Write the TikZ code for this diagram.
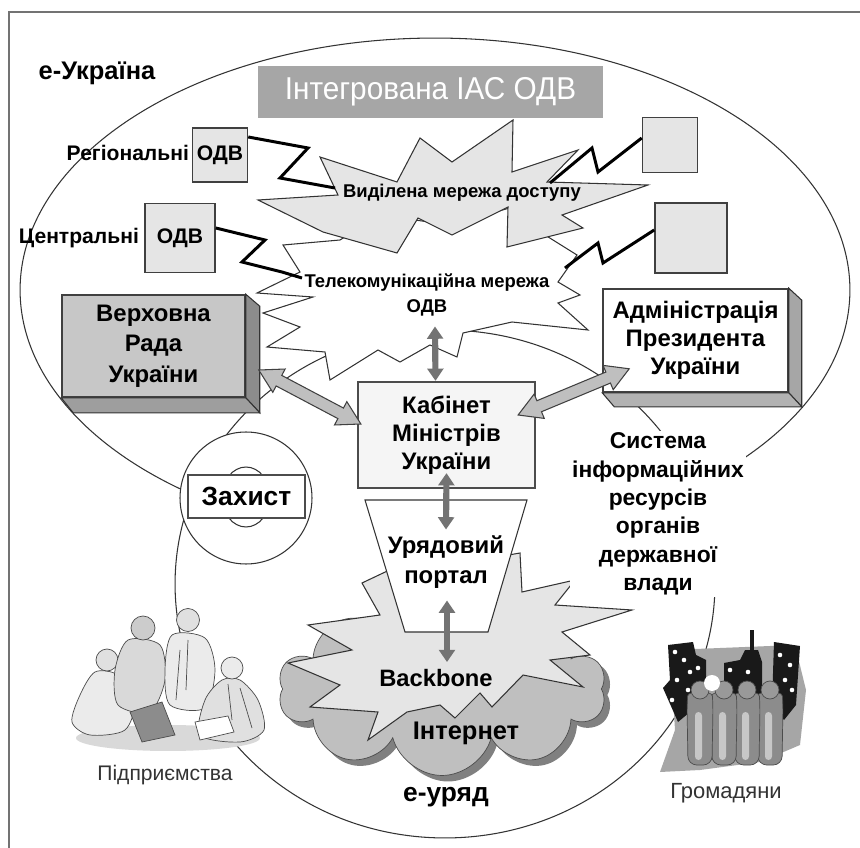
\documentclass[tikz,border=0pt]{standalone}
\usepackage{fontspec}
\setmainfont{Liberation Sans}
\newfontfamily\titlefont[FakeStretch=0.94]{Liberation Sans}
\usetikzlibrary{calc,positioning,shapes.geometric,shapes.symbols,arrows.meta}

\tikzset{
  box/.style={draw=black!75, line width=0.9pt, inner sep=0pt, align=center},
  odvbox/.style={box, fill=black!10},
  lbl/.style={font=\bfseries\fontsize{12}{14}\selectfont},
  nettxt/.style={font=\bfseries\fontsize{10.5}{12}\selectfont},
  boxtxt/.style={font=\bfseries\fontsize{13.6}{15.8}\selectfont, align=center},
  bolt/.style={draw=black, line width=1.7pt, line join=miter},
  burst/.style={draw=black!80, line width=0.6pt, line join=miter},
  side/.style={draw=black!80, line width=0.6pt},
  fatarr/.style={draw=black!75, line width=0.6pt, fill=black!25, line join=miter},
  vdarr/.style={draw=black!55, line width=3.5pt, >={Triangle[width=9pt,length=7pt]}, <->},
  clip/.style={draw=black!70, line width=0.4pt},
}

% fat double arrow between two named coordinates
\newcommand\fatarrow[2]{%
  \coordinate (fa) at (#1);
  \coordinate (fb) at (#2);
  \coordinate (fa1) at ($(fa)!13pt!(fb)$);
  \coordinate (fb1) at ($(fb)!13pt!(fa)$);
  \draw[fatarr] (fa) -- ($(fa1)!7.5pt!90:(fb)$) -- ($(fa1)!3.4pt!90:(fb)$)
    -- ($(fb1)!3.4pt!-90:(fa)$) -- ($(fb1)!7.5pt!-90:(fa)$) -- (fb)
    -- ($(fb1)!7.5pt!90:(fa)$) -- ($(fb1)!3.4pt!90:(fa)$)
    -- ($(fa1)!3.4pt!-90:(fb)$) -- ($(fa1)!7.5pt!-90:(fb)$) -- cycle;
}

\begin{document}
\begin{tikzpicture}[x=0.02cm, y=-0.02cm]
\fill[white] (0,0) rectangle (860,848);
\useasboundingbox (0,0) rectangle (860,848);
% frame
\draw[black!55, line width=1.3pt] (9,848) -- (9,12) -- (860,12);

% e-Ukraine and e-government domains
\node[ellipse, draw=black!80, line width=0.6pt, minimum width=16.6cm, minimum height=10.08cm, inner sep=0pt] (eukr) at (435,290) {};
\node[ellipse, draw=black!80, line width=0.6pt, fill=white, minimum width=10.8cm, minimum height=10.16cm, inner sep=0pt] (euryad) at (445,584) {};
\node[font=\bfseries\fontsize{14.5}{17}\selectfont] (eukrlbl) at (97,73) {e-Україна};

% telecom network (white burst)
\filldraw[burst, fill=white] (257,293) -- (300,272) -- (283,245) -- (340,240) -- (380,215)
  -- (450,225) -- (520,205) -- (545,235) -- (577,255) -- (558,282) -- (580,295) -- (558,303)
  -- (588,330) -- (512,322) -- (463,333) -- (457,357) -- (430,345) -- (400,362) -- (378,350)
  -- (330,380) -- (325,352) -- (267,347) -- (300,327) -- (263,313) -- (313,297) -- cycle;
% access network (grey burst)
\filldraw[burst, fill=black!10] (258,200) -- (338,195) -- (320,157) -- (397,182) -- (420,138)
  -- (452,162) -- (513,120) -- (512,172) -- (578,150) -- (547,182) -- (648,185) -- (562,215)
  -- (583,228) -- (507,247) -- (508,207) -- (452,235) -- (418,218) -- (397,253) -- (323,232) -- cycle;
\node[nettxt] (acclbl) at (462,193) {Виділена мережа доступу};
\node[nettxt] (tclbl) at (427,283) {Телекомунікаційна мережа};
\node[nettxt] (tcodv) at (427,308) {ОДВ};

% central and regional bodies
\node[odvbox, minimum width=1.1cm, minimum height=1.08cm, lbl] (regbox) at (220,155) {ОДВ};
\node[lbl, anchor=east, inner sep=1pt] (reglbl) at (191,153) {Регіональні};
\node[odvbox, minimum width=1.4cm, minimum height=1.38cm, lbl] (cenbox) at (180,238) {ОДВ};
\node[lbl, anchor=east, inner sep=1pt] (cenlbl) at (141,238) {Центральні};
\node[odvbox, minimum width=1.1cm, minimum height=1.1cm] (rbox1) at (670,145) {};
\node[odvbox, minimum width=1.44cm, minimum height=1.4cm] (rbox2) at (691,238) {};

% links into the networks
\coordinate (acc1) at (335,188);
\coordinate (tc1) at (302,278);
\coordinate (acc2) at (550,183);
\coordinate (tc2) at (565,268);
\draw[bolt] ([shift={(0,-18)}]regbox.east) -- (308,148) -- (280,178) -- (acc1);
\draw[bolt] ([shift={(0,-10)}]cenbox.east) -- (265,240) -- (242,262) -- (282,272) -- (tc1);
\draw[bolt] ([shift={(0,-7)}]rbox1.west) -- (598,172) -- (592,148) -- (acc2);
\draw[bolt] ([shift={(0,-8)}]rbox2.west) -- (603,263) -- (598,243) -- (tc2);

% title
\node[fill=black!35, minimum width=6.9cm, minimum height=1.04cm, text=white, font=\titlefont\fontsize{18}{20}\selectfont] (title) at (430.5,92) {Інтегрована ІАС ОДВ};

% parliament and president
\node[box, fill=black!22, minimum width=3.66cm, minimum height=2.04cm, boxtxt, font=\bfseries\fontsize{13.6}{17.3}\selectfont] (rada) at (153.5,346) {Верховна\\Рада\\України};
\filldraw[side, fill=black!45] (rada.north east) -- ++(14,12) -- ([shift={(14,15)}]rada.south east) -- (rada.south east) -- cycle;
\filldraw[side, fill=black!38] (rada.south west) -- ++(12,15) -- ([shift={(14,15)}]rada.south east) -- (rada.south east) -- cycle;
\node[box, fill=white, minimum width=3.7cm, minimum height=2.06cm, boxtxt] (admin) at (695.5,340.5) {Адміністрація\\Президента\\України};
\filldraw[side, fill=black!35] (admin.north east) -- ++(13,12) -- ([shift={(13,14)}]admin.south east) -- (admin.south east) -- cycle;
\filldraw[side, fill=black!30] (admin.south west) -- ++(12,14) -- ([shift={(13,14)}]admin.south east) -- (admin.south east) -- cycle;

% Internet cloud and backbone
\node[cloud, cloud puffs=10, aspect=1.9, minimum width=6.55cm, minimum height=3.46cm, fill=black!50, inner sep=0pt] (inetshadow) at (448,695) {};
\node[cloud, cloud puffs=10, aspect=1.9, minimum width=6.55cm, minimum height=3.46cm, draw=black!70, fill=black!25, inner sep=0pt] (inet) at (442,689) {};
\filldraw[burst, fill=black!10] (362,583) -- (380,615) -- (308,625) -- (352,650) -- (288,663)
  -- (340,685) -- (310,707) -- (378,712) -- (368,740) -- (407,712) -- (440,705) -- (455,718)
  -- (480,693) -- (492,707) -- (523,675) -- (583,687) -- (550,660) -- (590,655) -- (562,632)
  -- (632,610) -- (555,605) -- (575,580) -- (522,592) -- (520,553) -- (480,560) -- (400,565) -- cycle;

% government portal
\filldraw[draw=black!80, line width=0.6pt, fill=white] (365,500) -- (527,500) -- (488,632) -- (405,632) -- cycle;
\node[boxtxt, font=\bfseries\fontsize{13.6}{17}\selectfont] (portlbl) at (446,562) {Урядовий\\портал};

% cabinet
\node[box, fill=black!4, draw=black!70, line width=1.3pt, minimum width=3.54cm, minimum height=2.12cm, boxtxt] (kmu) at (446.5,435) {Кабінет\\Міністрів\\України};

\node[font=\bfseries\fontsize{13.5}{15}\selectfont] (bbone) at (436,678) {Backbone};
\node[font=\bfseries\fontsize{14.5}{16}\selectfont] (inetlbl) at (466,733) {Інтернет};
\node[font=\bfseries\fontsize{15}{17}\selectfont] (euryadlbl) at (446,797) {е-уряд};

% exchange arrows
\coordinate (rk1) at ([shift={(13,24)}]rada.east);
\coordinate (rk2) at ([shift={(4,-11)}]kmu.west);
\coordinate (ak1) at ([shift={(-18,-20)}]kmu.east);
\coordinate (ak2) at ([shift={(27,-24)}]admin.south west);
\fatarrow{rk1}{rk2}
\fatarrow{ak1}{ak2}
\draw[vdarr] ([shift={(8,4)}]tcodv.south) -- ([shift={(-11,0)}]kmu.north);
\draw[vdarr] ([shift={(0,-16)}]kmu.south) -- (portlbl.north);
\draw[vdarr] ([shift={(1,6)}]portlbl.south) -- ([shift={(11,-1)}]bbone.north);

% protection
\node[circle, draw=black!80, line width=0.6pt, fill=white, minimum size=2.64cm, inner sep=0pt] (zcirc) at (246,498) {};
\node[ellipse, draw=black!80, line width=0.6pt, minimum width=0.96cm, minimum height=1.2cm, inner sep=0pt] (zring) at (246,497) {};
\node[box, fill=white, draw=black!70, line width=1.5pt, minimum width=2.34cm, minimum height=0.86cm, font=\bfseries\fontsize{15}{17}\selectfont] (zakhyst) at (246.5,496.5) {Захист};

% information resources
\node[fill=white, inner sep=1pt, boxtxt, font=\bfseries\fontsize{13}{16.1}\selectfont] (sysres) at (658,514) {Система\\інформаційних\\ресурсів\\органів\\державної\\влади};

% enterprises
\fill[black!15] (168,738) ellipse [x radius=1.84cm, y radius=0.26cm];
\filldraw[clip, fill=black!8] plot[smooth cycle] coordinates {(95,672) (80,695) (72,722) (90,735) (125,730) (135,700) (118,675)};
\filldraw[clip, fill=black!12] (107,660) circle (0.22cm);
\filldraw[clip, fill=black!15] plot[smooth cycle] coordinates {(128,640) (115,670) (118,705) (150,712) (165,680) (160,645)};
\filldraw[clip, fill=black!20] (143,628) circle (0.24cm);
\filldraw[clip, fill=black!8] plot[smooth cycle] coordinates {(172,635) (165,670) (170,705) (205,708) (215,670) (205,638)};
\draw[clip] (188,640) -- (186,690) (180,650) -- (176,700);
\filldraw[clip, fill=black!12] (188,620) circle (0.23cm);
\filldraw[clip, fill=black!12] plot[smooth cycle] coordinates {(222,680) (205,700) (200,735) (240,742) (264,730) (258,700) (240,680)};
\draw[clip] (228,684) -- (232,720) (240,688) -- (252,728);
\filldraw[clip, fill=black!8] (232,668) circle (0.22cm);
\filldraw[clip, fill=black!45] (130,712) -- (162,702) -- (175,735) -- (142,742) -- cycle;
\filldraw[clip, fill=white] (195,722) -- (228,716) -- (234,732) -- (200,740) -- cycle;
\node[font=\fontsize{12}{14}\selectfont, text=black!80] (pidpr) at (165,775) {Підприємства};

% citizens
\fill[black!35] (670,650) -- (795,645) -- (806,690) -- (800,745) -- (760,762) -- (700,770) -- (660,772) -- (675,730) -- cycle;
\fill[black!90] (668,645) -- (693,642) -- (696,655) -- (706,660) -- (706,700) -- (690,712) -- (678,722) -- (663,688) -- (670,680) -- cycle;
\fill[black!90] (724,663) -- (740,660) -- (745,650) -- (758,650) -- (762,662) -- (762,700) -- (724,700) -- cycle;
\draw[black!90, line width=2pt] (752,630) -- (752,650);
\fill[black!90] (774,642) -- (800,646) -- (796,705) -- (784,720) -- (772,705) -- cycle;
\foreach \p in {(675,652),(684,660),(690,672),(677,680),(698,668),(700,685),(688,690),(672,700),(780,655),(790,665),(785,680),(792,690),(730,670),(748,672)}
  \fill[white] \p circle (1.3pt);
\foreach \x in {770,747,724,700} {
  \filldraw[fill=black!45, draw=black!70, line width=0.4pt, rounded corners=5pt] (\x-12,765) -- (\x-13,705) .. controls (\x-12,690) and (\x+12,690) .. (\x+13,705) -- (\x+12,765) -- cycle;
  \fill[black!22, rounded corners=2pt] (\x-5,712) rectangle (\x+2,760);
  \filldraw[fill=black!40, draw=black!70, line width=0.4pt] (\x,690) circle (0.18cm);
}
\fill[white] (712,683) circle (0.16cm);
\node[font=\fontsize{12.5}{14}\selectfont, text=black!80] (hromad) at (726,793) {Громадяни};
\end{tikzpicture}
\end{document}
